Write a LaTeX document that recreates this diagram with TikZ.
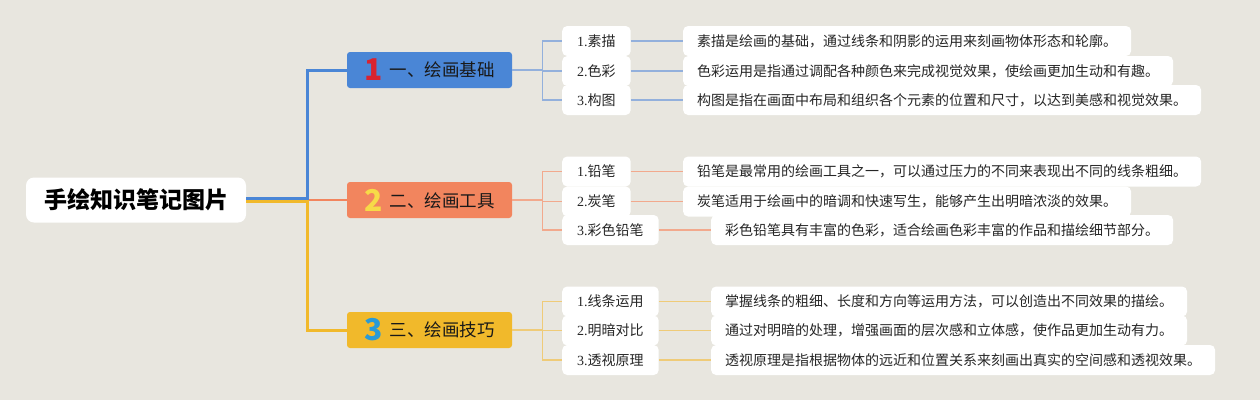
\documentclass[tikz,border=0pt]{standalone}
\usepackage{fontspec}
\setmainfont{Liberation Serif}
\newfontfamily\cjk{Noto Sans CJK SC}
\usepackage{xcolor}
\usetikzlibrary{positioning}

\definecolor{bg}{HTML}{E8E6DF}
\definecolor{bblue}{HTML}{4A86D6}
\definecolor{borange}{HTML}{F2855E}
\definecolor{byellow}{HTML}{F1B92B}
\definecolor{lblue}{HTML}{93B0DC}
\definecolor{lorange}{HTML}{F2A98D}
\definecolor{lyellow}{HTML}{EFCB78}
\definecolor{nred}{HTML}{D92330}
\definecolor{nyellow}{HTML}{F7DA48}
\definecolor{nblue}{HTML}{2A9AD6}

\newcommand{\tnum}[2]{\raisebox{-4pt}{\textcolor{#1}{\bfseries\fontsize{30}{30}\selectfont #2}}\hspace{7pt}}

\begin{document}
\begin{tikzpicture}[x=1pt, y=-1pt,
    root/.style={fill=white, rounded corners=8pt, minimum width=220pt, minimum height=45pt,
        font=\cjk\bfseries\fontsize{23}{23}\selectfont},
    topic/.style={rounded corners=3pt, minimum width=165pt, minimum height=36pt, inner sep=0pt,
        text=black!90, font=\cjk\fontsize{17.5}{18}\selectfont},
    leaf/.style={fill=white, rounded corners=5pt, minimum height=30pt, inner xsep=15pt,
        text=black!85, font=\fontsize{14}{15}\selectfont},
    desc/.style={leaf, inner xsep=14pt, font=\cjk\fontsize{14}{15}\selectfont},
    trunk/.style={line width=3pt},
    twig/.style={line width=1.4pt}]
    \fill[bg] (0,0) rectangle (1260,400);
%
    \node[root] (root) at (136,200) {手绘知识笔记图片};
    \coordinate (hub) at (307,200);
    \node[topic, fill=bblue] (b1) at (429.5,70) {\tnum{nred}{1}一、绘画基础};
    \node[topic, fill=borange] (b2) at (429.5,200) {\tnum{nyellow}{2}二、绘画工具};
    \node[topic, fill=byellow] (b3) at (429.5,330) {\tnum{nblue}{3}三、绘画技巧};
%
    \node[leaf, anchor=west] (c11) at (562,41) {1.{\cjk 素描}};
    \node[leaf, anchor=west] (c12) at (562,71) {2.{\cjk 色彩}};
    \node[leaf, anchor=west] (c13) at (562,100) {3.{\cjk 构图}};
    \node[leaf, anchor=west] (c21) at (562,171.5) {1.{\cjk 铅笔}};
    \node[leaf, anchor=west] (c22) at (562,201.5) {2.{\cjk 炭笔}};
    \node[leaf, anchor=west] (c23) at (562,230) {3.{\cjk 彩色铅笔}};
    \node[leaf, anchor=west] (c31) at (562,301.5) {1.{\cjk 线条运用}};
    \node[leaf, anchor=west] (c32) at (562,330.5) {2.{\cjk 明暗对比}};
    \node[leaf, anchor=west] (c33) at (562,360) {3.{\cjk 透视原理}};
%
    \node[desc, right=52pt of c11] (d11) {素描是绘画的基础，通过线条和阴影的运用来刻画物体形态和轮廓。};
    \node[desc, right=52pt of c12] (d12) {色彩运用是指通过调配各种颜色来完成视觉效果，使绘画更加生动和有趣。};
    \node[desc, right=52pt of c13] (d13) {构图是指在画面中布局和组织各个元素的位置和尺寸，以达到美感和视觉效果。};
    \node[desc, right=52pt of c21] (d21) {铅笔是最常用的绘画工具之一，可以通过压力的不同来表现出不同的线条粗细。};
    \node[desc, right=52pt of c22] (d22) {炭笔适用于绘画中的暗调和快速写生，能够产生出明暗浓淡的效果。};
    \node[desc, right=52pt of c23] (d23) {彩色铅笔具有丰富的色彩，适合绘画色彩丰富的作品和描绘细节部分。};
    \node[desc, right=52pt of c31] (d31) {掌握线条的粗细、长度和方向等运用方法，可以创造出不同效果的描绘。};
    \node[desc, right=52pt of c32] (d32) {通过对明暗的处理，增强画面的层次感和立体感，使作品更加生动有力。};
    \node[desc, right=52pt of c33] (d33) {透视原理是指根据物体的远近和位置关系来刻画出真实的空间感和透视效果。};
%
    \draw[borange, line width=2pt] (hub) -- (b2.west);
    \draw[trunk, bblue] ([yshift=1.2pt]root.east) -- ([yshift=1.2pt]hub) |- (b1.west);
    \draw[trunk, byellow] ([yshift=-1.2pt]root.east) -- ([yshift=-1.2pt]hub) |- (b3.west);
%
    \foreach \b/\col in {1/lblue, 2/lorange, 3/lyellow}
        \foreach \i in {1,2,3} {
            \draw[twig, \col] (b\b.east) -- ++(30,0) |- (c\b\i.west);
            \draw[twig, \col] (c\b\i.east) -- (d\b\i.west);
        }
\end{tikzpicture}
\end{document}
